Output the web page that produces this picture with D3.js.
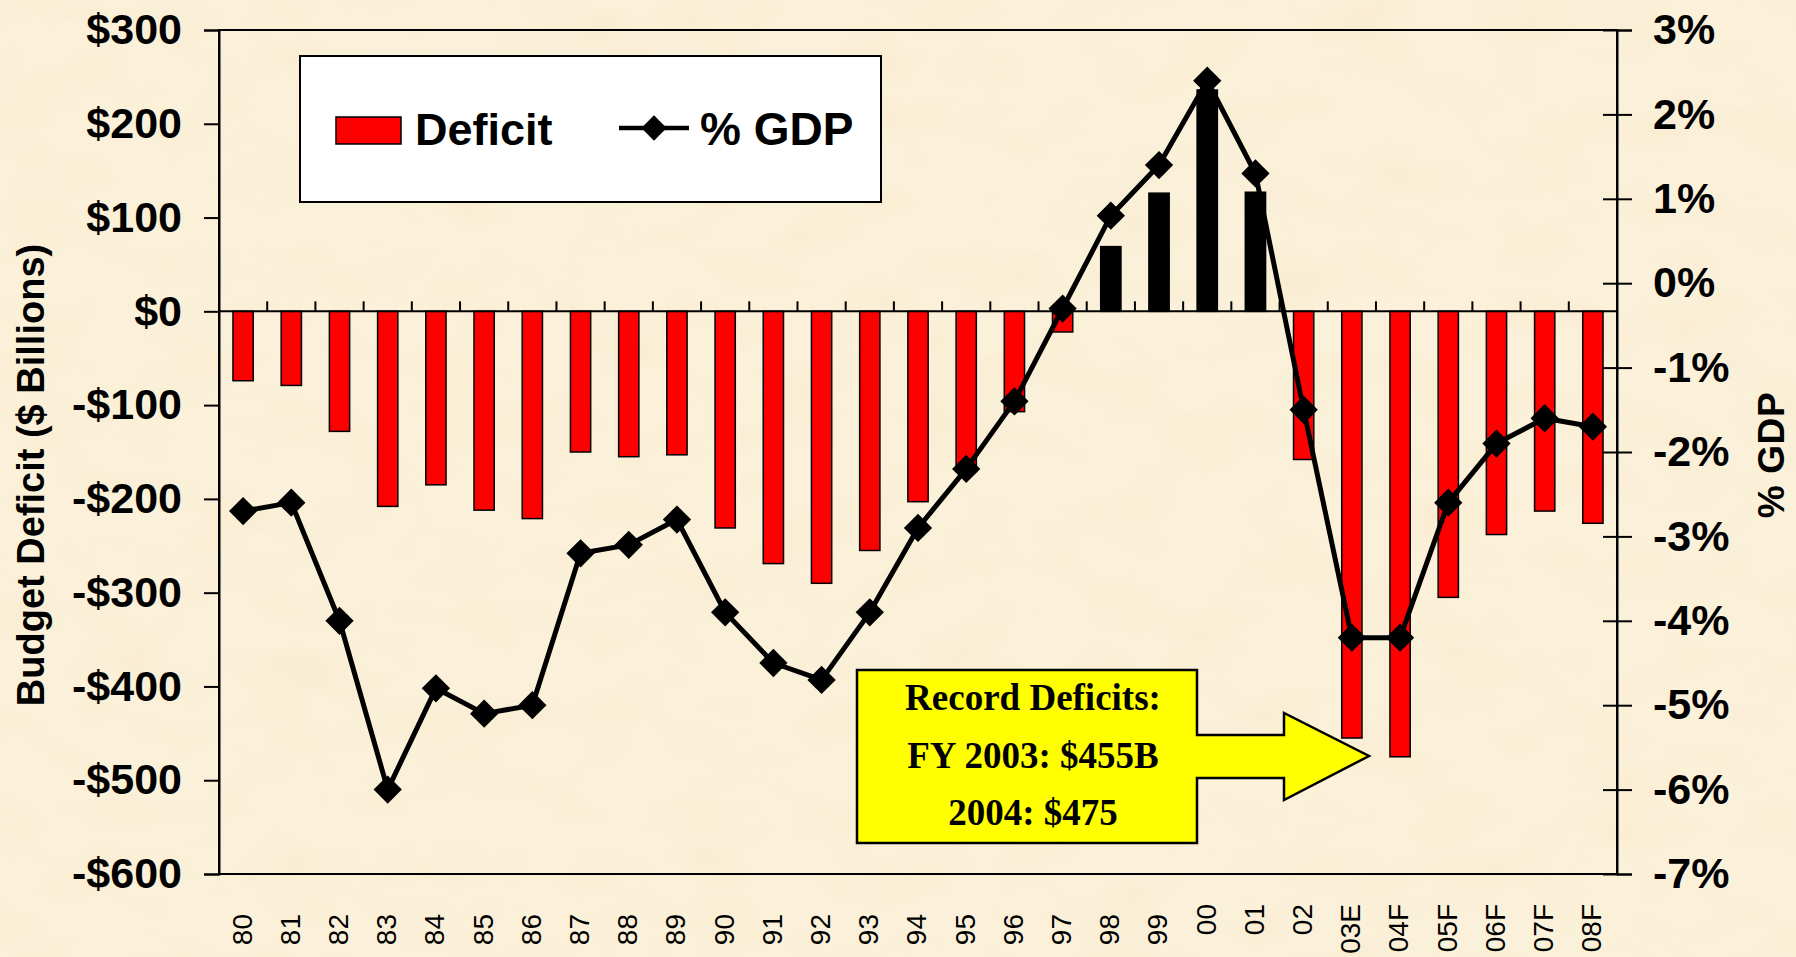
<!DOCTYPE html>
<meta charset="utf-8">
<script src="https://d3js.org/d3.v7.min.js"></script>
<style>
  body { margin: 0; background: #faf0da; overflow: hidden; }
  text { font-family: Arial, "Liberation Sans", sans-serif; fill: #000; }
</style>
<body>
<script>

var years = ["80", "81", "82", "83", "84", "85", "86", "87", "88", "89",
             "90", "91", "92", "93", "94", "95", "96", "97", "98", "99",
             "00", "01", "02", "03E", "04F", "05F", "06F", "07F", "08F"];

// budget deficit, $ billions
var deficit = [-74, -79, -128, -208, -185, -212, -221, -150, -155, -153,
               -231, -269, -290, -255, -203, -164, -107, -22, 69, 126,
               236, 127, -158, -455, -475, -305, -238, -213, -226];

// deficit as % of GDP
var pctGdp = [-2.7, -2.6, -4.0, -6.0, -4.8, -5.1, -5.0, -3.2, -3.1, -2.8,
              -3.9, -4.5, -4.7, -3.9, -2.9, -2.2, -1.4, -0.3, 0.8, 1.4,
              2.4, 1.3, -1.5, -4.2, -4.2, -2.6, -1.9, -1.6, -1.7];

var dollarTicks = [300, 200, 100, 0, -100, -200, -300, -400, -500, -600];
var pctTicks = [3, 2, 1, 0, -1, -2, -3, -4, -5, -6, -7];
var noteLines = ["Record Deficits:", "FY 2003: $455B", "2004: $475"];

var width = 1796, height = 957;
var plotLeft = 219, plotRight = 1617, plotTop = 30, plotBottom = 874;

var svg = d3.select("body").append("svg")
    .attr("width", width)
    .attr("height", height);

// parchment background
var defs = svg.append("defs");
var f = defs.append("filter").attr("id", "paper")
    .attr("x", 0).attr("y", 0).attr("width", "100%").attr("height", "100%");
f.append("feTurbulence")
    .attr("type", "fractalNoise")
    .attr("baseFrequency", "0.012 0.02")
    .attr("numOctaves", 3)
    .attr("seed", 7);
f.append("feColorMatrix")
    .attr("type", "matrix")
    .attr("values", "0 0 0 0 0.93  0 0 0 0 0.80  0 0 0 0 0.58  0.8 0 0 0 -0.28");

svg.append("rect")
    .attr("width", width).attr("height", height)
    .attr("fill", "#fbf1da");
svg.append("rect")
    .attr("width", width).attr("height", height)
    .attr("filter", "url(#paper)");

var x = d3.scaleBand().domain(years).range([plotLeft, plotRight]);
var y = d3.scaleLinear().domain([-600, 300]).range([plotBottom, plotTop]);
var y2 = d3.scaleLinear().domain([-7, 3]).range([plotBottom, plotTop]);

function cx(d) { return x(d) + x.bandwidth() / 2; }

// frame
svg.append("rect")
    .attr("x", plotLeft).attr("y", plotTop)
    .attr("width", plotRight - plotLeft).attr("height", plotBottom - plotTop)
    .attr("fill", "none")
    .attr("stroke", "#000")
    .attr("stroke-width", 2);

// left axis
var gl = svg.append("g")
    .attr("transform", "translate(" + plotLeft + ",0)")
    .call(d3.axisLeft(y)
        .tickValues(dollarTicks)
        .tickSize(15)
        .tickPadding(22)
        .tickFormat(function(d) { return d < 0 ? "-$" + (-d) : "$" + d; }));

// right axis
var gr = svg.append("g")
    .attr("transform", "translate(" + plotRight + ",0)")
    .call(d3.axisRight(y2)
        .tickValues(pctTicks)
        .tickSize(15)
        .tickPadding(21)
        .tickFormat(function(d) { return d + "%"; }));
gr.selectAll(".tick line").attr("x1", -14);

[gl, gr].forEach(function(g) {
  g.select(".domain").attr("stroke-width", 2);
  g.selectAll(".tick line").attr("stroke-width", 2);
  g.selectAll(".tick text")
      .attr("font-size", 43)
      .attr("font-weight", "bold")
      .attr("font-family", "Arial, 'Liberation Sans', sans-serif");
});

// bars
svg.append("g").selectAll("rect")
    .data(years)
  .enter().append("rect")
    .attr("x", function(d) { return x(d) + x.bandwidth() * 0.29; })
    .attr("width", x.bandwidth() * 0.42)
    .attr("y", function(d, i) { return y(Math.max(0, deficit[i])); })
    .attr("height", function(d, i) { return Math.abs(y(deficit[i]) - y(0)); })
    .attr("fill", function(d, i) { return deficit[i] > 0 ? "#000" : "#ff0000"; })
    .attr("stroke", "#000")
    .attr("stroke-width", 1.5);

// zero line with category ticks
var gz = svg.append("g");
gz.append("line")
    .attr("x1", plotLeft).attr("x2", plotRight)
    .attr("y1", y(0)).attr("y2", y(0))
    .attr("stroke", "#000")
    .attr("stroke-width", 2);
gz.selectAll(".ct")
    .data(years.slice(1))
  .enter().append("line")
    .attr("class", "ct")
    .attr("x1", function(d) { return x(d); })
    .attr("x2", function(d) { return x(d); })
    .attr("y1", y(0)).attr("y2", y(0) - 10)
    .attr("stroke", "#000")
    .attr("stroke-width", 2);

// category labels
svg.append("g").selectAll("text")
    .data(years)
  .enter().append("text")
    .attr("transform", function(d, i) {
      return "translate(" + cx(d) + "," + (i < 20 ? 914 : 904) + ") rotate(-90)";
    })
    .attr("text-anchor", "end")
    .attr("dy", "0.3em")
    .attr("font-size", 28)
    .text(function(d) { return d; });

// % GDP line
var line = d3.line()
    .x(function(d, i) { return cx(years[i]); })
    .y(function(d) { return y2(d); });

svg.append("path")
    .datum(pctGdp)
    .attr("d", line)
    .attr("fill", "none")
    .attr("stroke", "#000")
    .attr("stroke-width", 5)
    .attr("stroke-linejoin", "round");

var diamond = d3.symbol().type(d3.symbolSquare).size(400);

svg.append("g").selectAll("path")
    .data(pctGdp)
  .enter().append("path")
    .attr("d", diamond)
    .attr("transform", function(d, i) {
      return "translate(" + cx(years[i]) + "," + y2(d) + ") rotate(45)";
    })
    .attr("fill", "#000");

// axis titles
svg.append("text")
    .attr("transform", "translate(44,475) rotate(-90)")
    .attr("text-anchor", "middle")
    .attr("font-size", 38)
    .attr("font-weight", "bold")
    .text("Budget Deficit ($ Billions)");

svg.append("text")
    .attr("transform", "translate(1784,455) rotate(-90)")
    .attr("text-anchor", "middle")
    .attr("font-size", 37)
    .attr("font-weight", "bold")
    .attr("letter-spacing", 0.6)
    .text("% GDP");

// legend
var lg = svg.append("g");
lg.append("rect")
    .attr("x", 300).attr("y", 56)
    .attr("width", 581).attr("height", 146)
    .attr("fill", "#fff")
    .attr("stroke", "#000")
    .attr("stroke-width", 2);
lg.append("rect")
    .attr("x", 336).attr("y", 117)
    .attr("width", 65).attr("height", 27)
    .attr("fill", "#ff0000")
    .attr("stroke", "#000")
    .attr("stroke-width", 1.5);
lg.append("text")
    .attr("x", 415).attr("y", 145)
    .attr("font-size", 45)
    .attr("font-weight", "bold")
    .text("Deficit");
lg.append("line")
    .attr("x1", 619).attr("x2", 689)
    .attr("y1", 128).attr("y2", 128)
    .attr("stroke", "#000")
    .attr("stroke-width", 4.5);
lg.append("path")
    .attr("d", d3.symbol().type(d3.symbolSquare).size(320))
    .attr("transform", "translate(654,128) rotate(45)")
    .attr("fill", "#000");
lg.append("text")
    .attr("x", 700).attr("y", 145)
    .attr("font-size", 46)
    .attr("font-weight", "bold")
    .text("% GDP");

// callout
var callout = [[857, 670], [1197, 670], [1197, 735], [1284, 735], [1284, 713],
               [1369, 756], [1284, 800], [1284, 778], [1197, 778], [1197, 843],
               [857, 843]];
svg.append("path")
    .attr("d", "M" + callout.join("L") + "Z")
    .attr("fill", "#ffff00")
    .attr("stroke", "#000")
    .attr("stroke-width", 2.5);

svg.append("g").selectAll("text")
    .data(noteLines)
  .enter().append("text")
    .attr("x", 1033)
    .attr("y", function(d, i) { return 710 + i * 57.5; })
    .attr("text-anchor", "middle")
    .attr("font-weight", "bold")
    .attr("font-size", 37)
    .style("font-family", "'Liberation Serif', 'Times New Roman', serif")
    .text(function(d) { return d; });

</script>
</body>
